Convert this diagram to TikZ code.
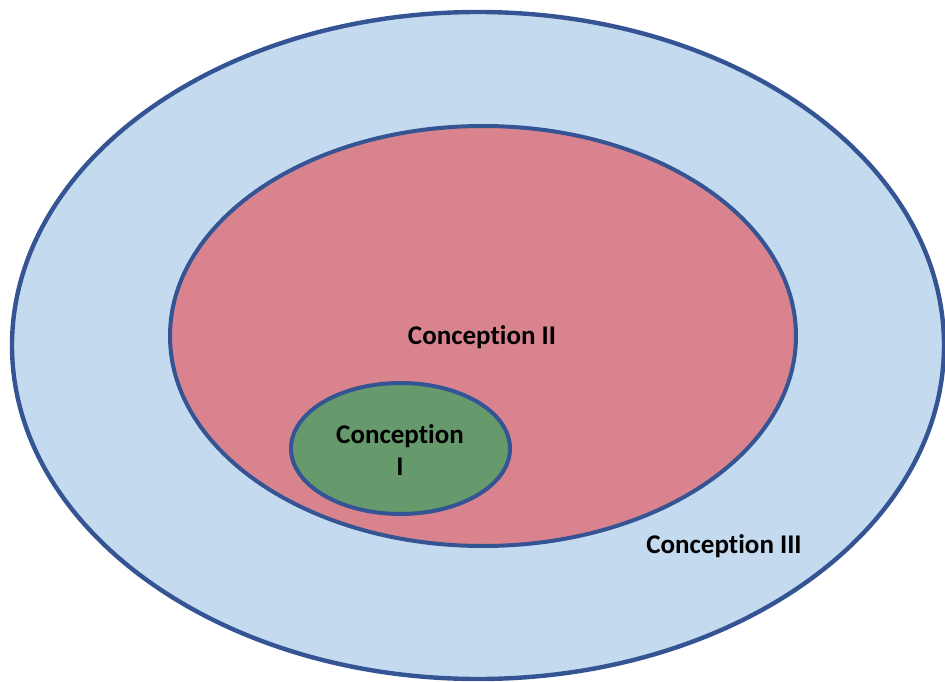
\documentclass[tikz,border=0pt]{standalone}
\usepackage{fontspec}
\setmainfont[Ligatures=NoCommon]{Carlito}
\usetikzlibrary{shapes.geometric}
\definecolor{ringblue}{RGB}{196,218,239}
\definecolor{ringred}{RGB}{217,131,143}
\definecolor{ringgreen}{RGB}{102,153,108}
\definecolor{ringline}{RGB}{52,84,148}
\tikzset{
  ring/.style={ellipse, draw=ringline, inner sep=0pt, line width=#1},
  ring/.default=4pt,
  label text/.style={font=\fontsize{27}{32}\selectfont\bfseries, text=black, align=center, inner sep=0pt}
}
\begin{document}
\begin{tikzpicture}[x=1pt,y=-1pt]
  \useasboundingbox (0,0) rectangle (945,682);
  \clip (0,0) rectangle (945,682);
  % nested conceptions
  \node[ring=4.4pt, fill=ringblue, minimum width=932pt, minimum height=667pt] (c3) at (478,345.5) {};
  \node[ring, fill=ringred, minimum width=626pt, minimum height=420pt] (c2) at (483,336) {};
  \node[ring, fill=ringgreen, minimum width=219pt, minimum height=131pt] (c1) at (400.5,448.5) {};
  % labels
  \node[label text] (t2) at (482,337) {Conception II};
  \node[label text] (t1) at (400,450) {Conception\\I};
  \node[label text] (t3) at (724,546) {Conception III};
\end{tikzpicture}
\end{document}
